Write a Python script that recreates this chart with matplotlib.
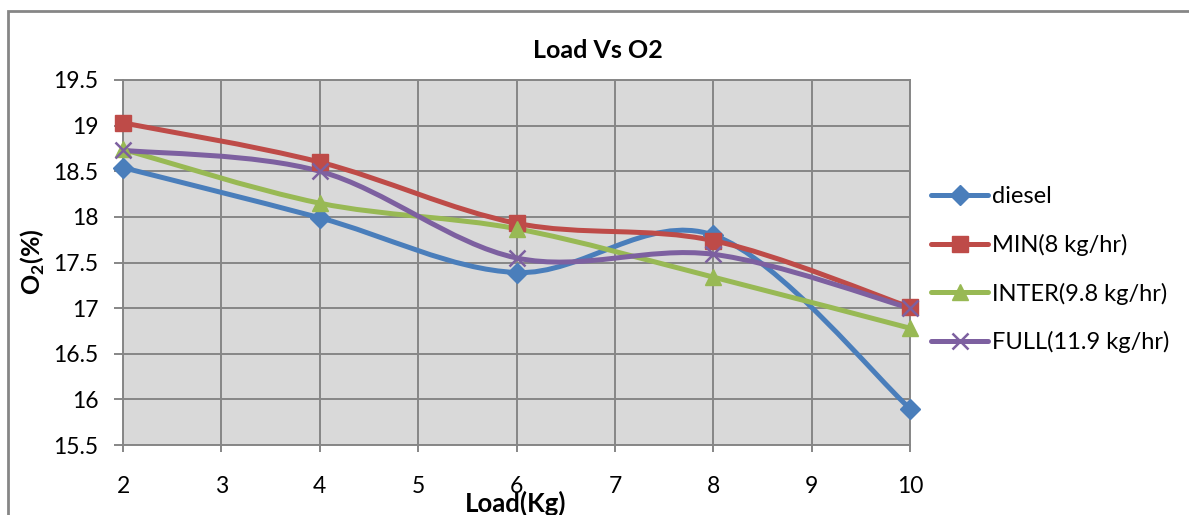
import matplotlib
matplotlib.use("Agg")
import matplotlib.pyplot as plt
from matplotlib.path import Path
from matplotlib.patches import PathPatch, Rectangle
from matplotlib.lines import Line2D

plt.rcParams['font.family'] = ['Lato', 'DejaVu Sans']
plt.rcParams['mathtext.fontset'] = 'custom'
plt.rcParams['mathtext.rm'] = 'Lato'
plt.rcParams['mathtext.bf'] = 'Lato:bold'

load = [2, 4, 6, 8, 10]
diesel = [18.54, 17.99, 17.39, 17.80, 15.90]
min_8 = [19.03, 18.60, 17.93, 17.74, 17.01]
inter_98 = [18.74, 18.15, 17.87, 17.34, 16.78]
full_119 = [18.73, 18.50, 17.55, 17.59, 17.00]

series_names = ["diesel", "MIN(8 kg/hr)", "INTER(9.8 kg/hr)", "FULL(11.9 kg/hr)"]
series_vals = [diesel, min_8, inter_98, full_119]
colors = ["#4A7EBB", "#BE4B48", "#98B954", "#7D60A0"]
markers = ["D", "s", "^", "x"]
msizes = [10, 12, 12, 12]

x_ticks = [2, 3, 4, 5, 6, 7, 8, 9, 10]
y_ticks = [15.5, 16, 16.5, 17, 17.5, 18, 18.5, 19, 19.5]

W, H = 1189, 515
fig = plt.figure(figsize=(W / 100, H / 100), dpi=100)
ax = fig.add_axes([123 / W, 1 - 445 / H, (910 - 123) / W, (445 - 80) / H])

grid_c = "#868686"
ax.set_facecolor("#D9D9D9")
ax.set_xlim(2, 10)
ax.set_ylim(15.5, 19.5)
ax.set_xticks(x_ticks)
ax.set_yticks(y_ticks)
ax.set_yticklabels([f"{v:g}" for v in y_ticks])
ax.grid(True, color=grid_c, lw=1.4)
ax.set_axisbelow(True)
for s in ax.spines.values():
    s.set_color(grid_c)
    s.set_linewidth(1.4)
ax.tick_params(axis='x', direction='out', length=5, width=1.4, color=grid_c,
               labelsize=16.5, pad=17)
ax.tick_params(axis='y', direction='out', length=6.5, width=1.4, color=grid_c,
               labelsize=16.5, pad=11)


def smooth_path(xs, ys):
    pts = list(zip(xs, ys))
    n = len(pts)
    verts = [pts[0]]
    codes = [Path.MOVETO]
    for i in range(n - 1):
        p0 = pts[i - 1] if i > 0 else pts[i]
        p1 = pts[i]
        p2 = pts[i + 1]
        p3 = pts[i + 2] if i + 2 < n else pts[i + 1]
        c1 = (p1[0] + (p2[0] - p0[0]) / 6, p1[1] + (p2[1] - p0[1]) / 6)
        c2 = (p2[0] - (p3[0] - p1[0]) / 6, p2[1] - (p3[1] - p1[1]) / 6)
        verts += [c1, c2, p2]
        codes += [Path.CURVE4] * 3
    return Path(verts, codes)


handles = []
for name, vals, c, m, ms in zip(series_names, series_vals, colors, markers, msizes):
    patch = PathPatch(smooth_path(load, vals), transform=ax.transData,
                      fill=False, edgecolor=c, lw=3.6, capstyle='round',
                      joinstyle='round', zorder=3)
    ax.add_patch(patch)
    mew = 1.8 if m == "x" else 1
    ax.plot(load, vals, linestyle='none', marker=m, markersize=ms, color=c,
            markeredgecolor=c, markeredgewidth=mew, zorder=4, clip_on=False)
    handles.append(Line2D([], [], color=c, lw=3.6, marker=m, markersize=ms,
                          markeredgewidth=mew, solid_capstyle='round'))

leg = fig.legend(handles, series_names, loc='upper left',
                 bbox_to_anchor=(922 / W, 1 - 177 / H), frameon=False,
                 fontsize=17, handlelength=2.4, handletextpad=0.15,
                 labelspacing=1.12, borderaxespad=0)

fig.text(598 / W, 1 - 50 / H, "Load Vs O2", ha='center', va='center',
         fontsize=18, fontweight='bold')
fig.text(33 / W, 1 - 262 / H, r"O$_{\mathbf{2}}$(%)", ha='center', va='center',
         rotation=90, fontsize=18, fontweight='bold')
fig.text(516 / W, 1 - 503 / H, "Load(Kg)", ha='center', va='center',
         fontsize=18.5, fontweight='bold')

fig.patches.append(Rectangle((8 / W, -0.1), 1.2, 1.1 - 11 / H + 0.0,
                             transform=fig.transFigure, fill=False,
                             edgecolor=grid_c, lw=2, zorder=0))

fig.savefig("out.png", dpi=100)
